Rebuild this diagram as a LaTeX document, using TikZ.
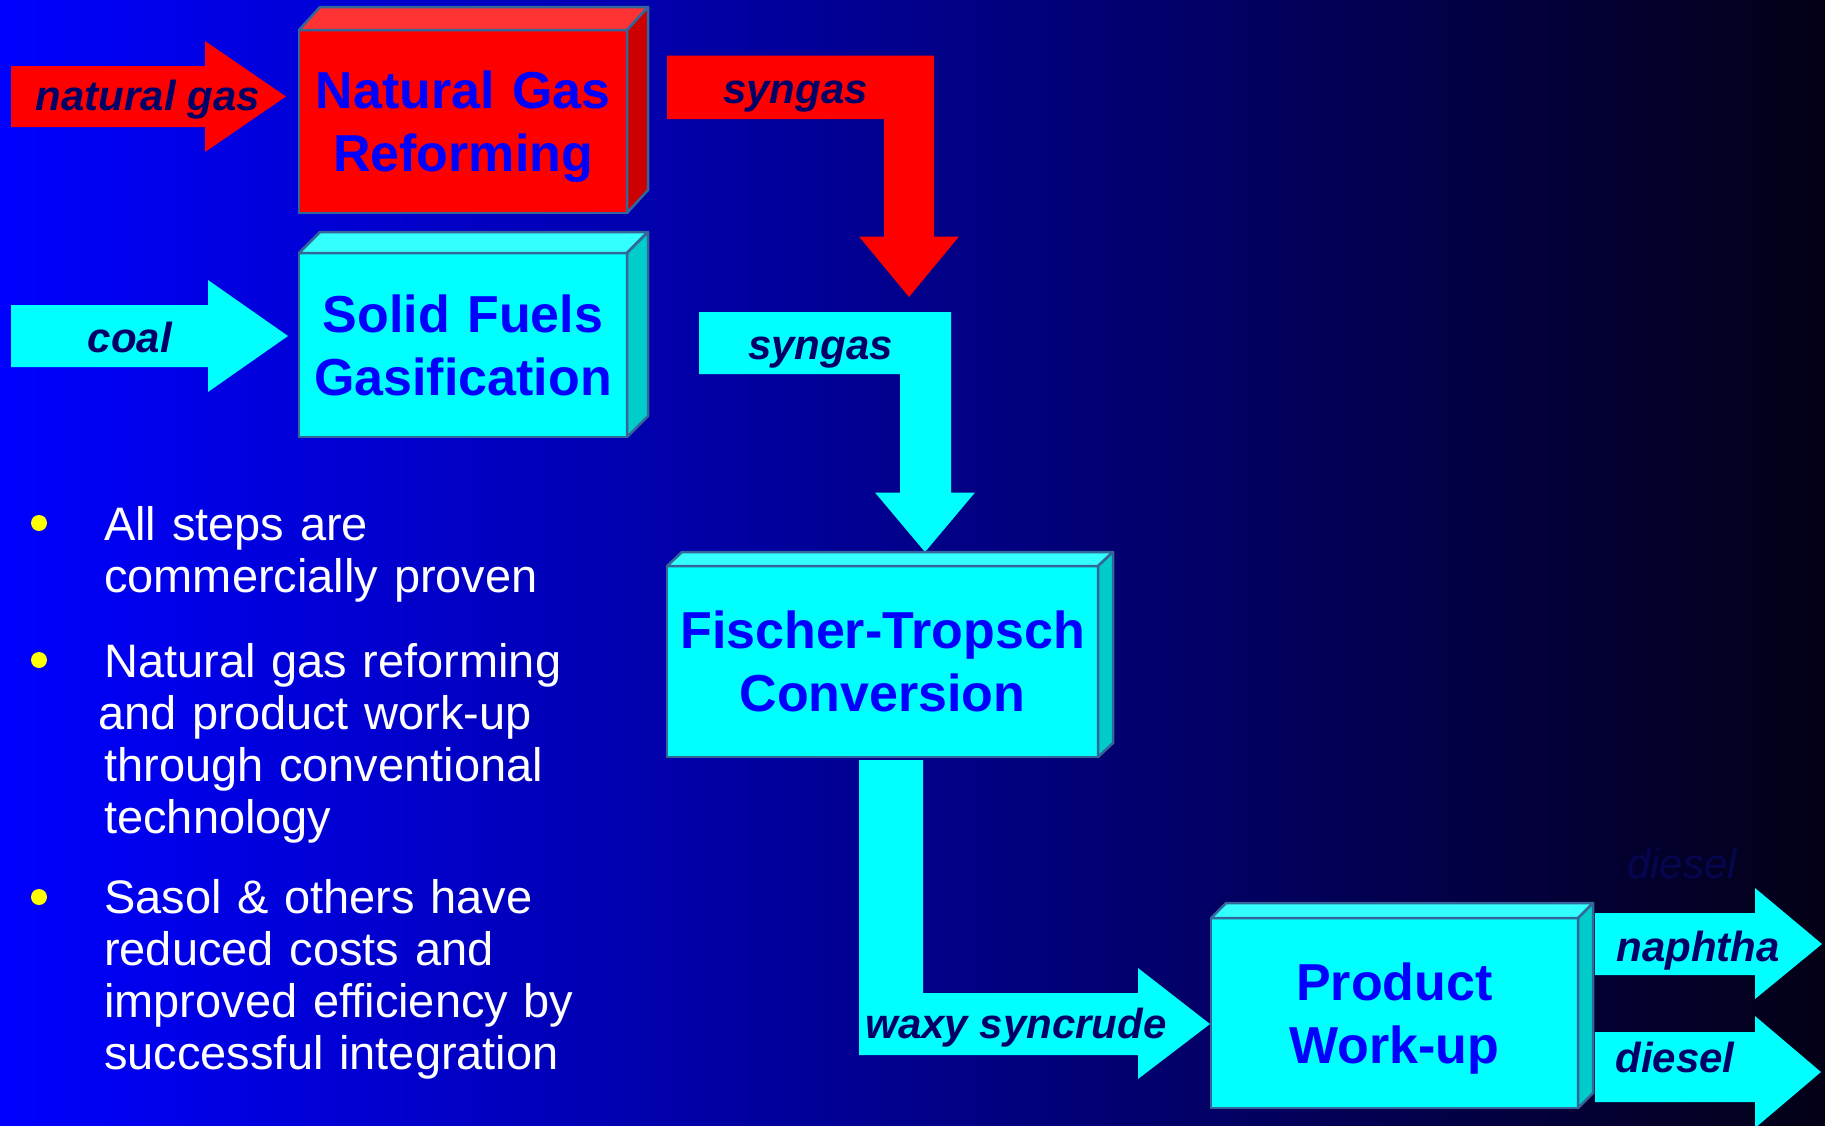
\documentclass[tikz,border=0pt]{standalone}
\usepackage{fontspec}
\setmainfont{Liberation Sans}
\usepackage{xcolor}
\usepackage{tikz}

\definecolor{bgleft}{RGB}{0,0,255}
\definecolor{bgmid}{RGB}{0,0,165}
\definecolor{bgright}{RGB}{3,0,22}
\definecolor{flowred}{RGB}{255,0,0}
\definecolor{redtop}{RGB}{255,51,51}
\definecolor{redside}{RGB}{204,0,0}
\definecolor{flowcyan}{RGB}{0,255,255}
\definecolor{cyantop}{RGB}{51,255,255}
\definecolor{cyanside}{RGB}{0,204,204}
\definecolor{boxedge}{RGB}{51,102,153}
\definecolor{labelnavy}{RGB}{0,0,102}
\definecolor{titleblue}{RGB}{0,0,255}
\definecolor{ghostnavy}{RGB}{6,6,80}
\definecolor{dotyellow}{RGB}{255,255,0}

\begin{document}
\begin{tikzpicture}[x=1pt,y=-1pt,
    unitbox/.style={rectangle,draw=boxedge,line width=2.5pt,fill=#1,inner sep=0pt,outer sep=0pt,
        align=center,text=titleblue,font=\fontsize{52}{63}\selectfont\bfseries,
        text height=40pt,text depth=66pt},
    boxface/.style={draw=boxedge,line width=2.5pt,line join=round,fill=#1},
    flowlabel/.style={anchor=base,inner sep=0pt,text=labelnavy,
        font=\fontsize{42}{42}\selectfont\bfseries\itshape},
    bullettext/.style={anchor=base west,inner sep=0pt,text width=560pt,align=left,
        text=white,font=\fontsize{47}{52}\selectfont},
    bulletdot/.style={circle,fill=dotyellow,inner sep=0pt,minimum size=16pt}]

    \useasboundingbox (0,0) rectangle (1825,1125);
    \shade[left color=bgleft,middle color=bgmid,right color=bgright] (0,0) rectangle (1825,1125);

    % feed and product streams
    \fill[flowred] (11,66) -- (205,66) -- (205,41) -- (286,96.5) -- (205,152) -- (205,127) -- (11,127) -- cycle;
    \fill[flowcyan] (11,305) -- (208,305) -- (208,280) -- (288,336) -- (208,392) -- (208,367) -- (11,367) -- cycle;
    \fill[flowred] (667,55.5) -- (934,55.5) -- (934,236.5) -- (959,236.5) -- (909,297)
        -- (859,236.5) -- (884,236.5) -- (884,119) -- (667,119) -- cycle;
    \fill[flowcyan] (699,312) -- (951,312) -- (951,492.5) -- (975,492.5) -- (925,552)
        -- (875,492.5) -- (900,492.5) -- (900,374) -- (699,374) -- cycle;
    \fill[flowcyan] (859,760) -- (923,760) -- (923,993) -- (1138,993) -- (1138,968) -- (1210,1024)
        -- (1138,1079) -- (1138,1055) -- (859,1055) -- cycle;
    \fill[flowcyan] (1595,913) -- (1755,913) -- (1755,888) -- (1822,944) -- (1755,999) -- (1755,975) -- (1595,975) -- cycle;
    \fill[flowcyan] (1595,1032) -- (1755,1032) -- (1755,1016) -- (1821,1072) -- (1755,1128) -- (1755,1102) -- (1595,1102) -- cycle;

    % process units
    \node[unitbox=flowred,minimum width=328pt,minimum height=183pt,text width=328pt] (ngr) at (463,121.5) {Natural Gas\\Reforming};
    \filldraw[boxface=redtop] (ngr.north west) -- ++(21,-23) -- ++(328,0) -- (ngr.north east) -- cycle;
    \filldraw[boxface=redside] (ngr.north east) -- ++(21,-23) -- ++(0,183) -- (ngr.south east) -- cycle;

    \node[unitbox=flowcyan,minimum width=328pt,minimum height=184pt,text width=328pt] (sfg) at (463,345) {Solid Fuels\\Gasification};
    \filldraw[boxface=cyantop] (sfg.north west) -- ++(21,-21) -- ++(328,0) -- (sfg.north east) -- cycle;
    \filldraw[boxface=cyanside] (sfg.north east) -- ++(21,-21) -- ++(0,184) -- (sfg.south east) -- cycle;

    \node[unitbox=flowcyan,minimum width=431pt,minimum height=191pt,text width=431pt] (ftc) at (882.5,661.5) {Fischer-Tropsch\\Conversion};
    \filldraw[boxface=cyantop] (ftc.north west) -- ++(15,-14) -- ++(431,0) -- (ftc.north east) -- cycle;
    \filldraw[boxface=cyanside] (ftc.north east) -- ++(15,-14) -- ++(0,191) -- (ftc.south east) -- cycle;

    \node[unitbox=flowcyan,minimum width=367pt,minimum height=190pt,text width=367pt] (pwu) at (1394.5,1013) {Product\\Work-up};
    \filldraw[boxface=cyantop] (pwu.north west) -- ++(15,-15) -- ++(367,0) -- (pwu.north east) -- cycle;
    \filldraw[boxface=cyanside] (pwu.north east) -- ++(15,-15) -- ++(0,190) -- (pwu.south east) -- cycle;

    % stream labels
    \node[flowlabel] (ng-lab) at (148,110) {natural gas};
    \node[flowlabel] (coal-lab) at (130,352) {coal};
    \node[flowlabel] (sg1-lab) at (795.5,103) {syngas};
    \node[flowlabel] (sg2-lab) at (820.5,359) {syngas};
    \node[flowlabel] (wax-lab) at (1016,1038) {waxy syncrude};
    \node[flowlabel] (nap-lab) at (1698,961) {naphtha};
    \node[flowlabel] (dsl-lab) at (1675,1072) {diesel};
    \node[flowlabel,text=ghostnavy,font=\fontsize{42}{42}\selectfont\itshape] (dsl-ghost) at (1682,878) {diesel};

    % bullet points
    \node[bulletdot] (dot1) at (39,523) {};
    \node[bullettext] (item1) at (104,540) {All steps are\\commercially proven};
    \node[bulletdot] (dot2) at (39,660) {};
    \node[bullettext] (item2) at (104,677) {Natural gas reforming\\\hspace*{-6pt}and product work-up\\through conventional\\technology};
    \node[bulletdot] (dot3) at (39,897) {};
    \node[bullettext] (item3) at (104,913) {Sasol \& others have\\reduced costs and\\improved efficiency by\\successful integration};
\end{tikzpicture}
\end{document}
